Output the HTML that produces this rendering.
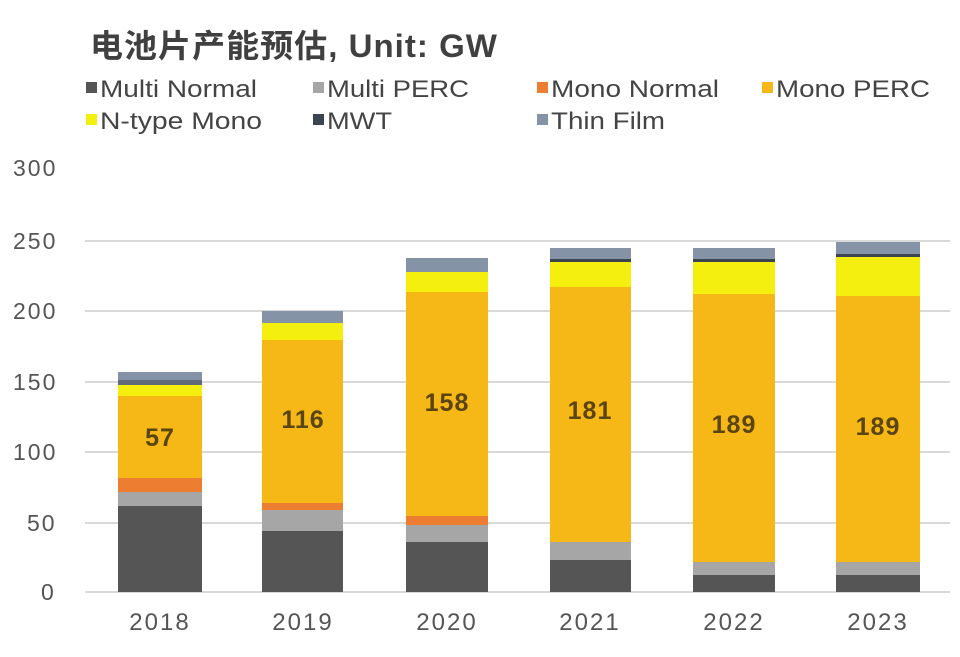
<!DOCTYPE html>
<html><head><meta charset="utf-8"><style>
body{margin:0;background:#fff;}
svg text{font-family:"Liberation Sans","Noto Sans CJK SC",sans-serif;}
</style></head><body>
<svg width="960" height="652" xmlns="http://www.w3.org/2000/svg">
<rect width="960" height="652" fill="#fff"/>
<text x="90" y="57" font-size="32" font-weight="bold" fill="#404040" letter-spacing="1" textLength="408" lengthAdjust="spacingAndGlyphs">电池片产能预估, Unit: GW</text>
<g font-size="24" fill="#444">
<rect x="86" y="82" width="11" height="11" fill="#555"/><text x="100" y="97" textLength="157" lengthAdjust="spacingAndGlyphs">Multi Normal</text>
<rect x="313" y="82" width="11" height="11" fill="#a6a6a6"/><text x="327" y="97" textLength="142" lengthAdjust="spacingAndGlyphs">Multi PERC</text>
<rect x="537" y="82" width="11" height="11" fill="#ed7d31"/><text x="551" y="97" textLength="168" lengthAdjust="spacingAndGlyphs">Mono Normal</text>
<rect x="762" y="82" width="11" height="11" fill="#f5b816"/><text x="776" y="97" textLength="154" lengthAdjust="spacingAndGlyphs">Mono PERC</text>
<rect x="86" y="114" width="11" height="11" fill="#f5ef0f"/><text x="100" y="129" textLength="162" lengthAdjust="spacingAndGlyphs">N-type Mono</text>
<rect x="313" y="114" width="11" height="11" fill="#3c4450"/><text x="327" y="129" textLength="65" lengthAdjust="spacingAndGlyphs">MWT</text>
<rect x="537" y="114" width="11" height="11" fill="#8593a6"/><text x="551" y="129" textLength="114" lengthAdjust="spacingAndGlyphs">Thin Film</text>
</g>
<g stroke="#d9d9d9" stroke-width="2">
<line x1="85" y1="241" x2="950" y2="241"/><line x1="85" y1="311" x2="950" y2="311"/>
<line x1="85" y1="382" x2="950" y2="382"/><line x1="85" y1="452" x2="950" y2="452"/>
<line x1="85" y1="523" x2="950" y2="523"/><line x1="85" y1="592" x2="950" y2="592"/>
</g>
<g font-size="23" fill="#555" letter-spacing="2">
<text x="13" y="176">300</text><text x="13" y="249">250</text><text x="13" y="319">200</text>
<text x="13" y="390">150</text><text x="13" y="460">100</text><text x="27" y="531">50</text><text x="41" y="600">0</text>
</g>
<g>
<rect x="118" y="506" width="84" height="86" fill="#555"/>
<rect x="118" y="492" width="84" height="14" fill="#a6a6a6"/>
<rect x="118" y="478" width="84" height="14" fill="#ed7d31"/>
<rect x="118" y="396" width="84" height="82" fill="#f5b816"/>
<rect x="118" y="385" width="84" height="11" fill="#f5ef0f"/>
<rect x="118" y="380" width="84" height="5" fill="#606a78"/>
<rect x="118" y="372" width="84" height="8" fill="#8593a6"/>
<rect x="262" y="531" width="81" height="61" fill="#555"/>
<rect x="262" y="510" width="81" height="21" fill="#a6a6a6"/>
<rect x="262" y="503" width="81" height="7" fill="#ed7d31"/>
<rect x="262" y="340" width="81" height="163" fill="#f5b816"/>
<rect x="262" y="323" width="81" height="17" fill="#f5ef0f"/>
<rect x="262" y="311" width="81" height="12" fill="#8593a6"/>
<rect x="406" y="542" width="82" height="50" fill="#555"/>
<rect x="406" y="525" width="82" height="17" fill="#a6a6a6"/>
<rect x="406" y="516" width="82" height="9" fill="#ed7d31"/>
<rect x="406" y="292" width="82" height="224" fill="#f5b816"/>
<rect x="406" y="272" width="82" height="20" fill="#f5ef0f"/>
<rect x="406" y="258" width="82" height="14" fill="#8593a6"/>
<rect x="550" y="560" width="81" height="32" fill="#555"/>
<rect x="550" y="542" width="81" height="18" fill="#a6a6a6"/>
<rect x="550" y="287" width="81" height="255" fill="#f5b816"/>
<rect x="550" y="262" width="81" height="25" fill="#f5ef0f"/>
<rect x="550" y="259" width="81" height="3" fill="#3c4450"/>
<rect x="550" y="248" width="81" height="11" fill="#8593a6"/>
<rect x="693" y="575" width="82" height="17" fill="#555"/>
<rect x="693" y="562" width="82" height="13" fill="#a6a6a6"/>
<rect x="693" y="294" width="82" height="268" fill="#f5b816"/>
<rect x="693" y="262" width="82" height="32" fill="#f5ef0f"/>
<rect x="693" y="259" width="82" height="3" fill="#3c4450"/>
<rect x="693" y="248" width="82" height="11" fill="#8593a6"/>
<rect x="836" y="575" width="84" height="17" fill="#555"/>
<rect x="836" y="562" width="84" height="13" fill="#a6a6a6"/>
<rect x="836" y="296" width="84" height="266" fill="#f5b816"/>
<rect x="836" y="257" width="84" height="39" fill="#f5ef0f"/>
<rect x="836" y="254" width="84" height="3" fill="#3c4450"/>
<rect x="836" y="242" width="84" height="12" fill="#8593a6"/>
</g>
<g font-size="25" font-weight="bold" fill="#5a4410" text-anchor="middle" letter-spacing="1">
<text x="160" y="446">57</text><text x="303" y="428">116</text><text x="447" y="411">158</text>
<text x="590" y="419">181</text><text x="734" y="433">189</text><text x="878" y="435">189</text>
</g>
<g font-size="24" fill="#555" text-anchor="middle" letter-spacing="2">
<text x="160" y="630">2018</text><text x="303" y="630">2019</text><text x="447" y="630">2020</text>
<text x="590" y="630">2021</text><text x="734" y="630">2022</text><text x="878" y="630">2023</text>
</g>
</svg>
</body></html>
